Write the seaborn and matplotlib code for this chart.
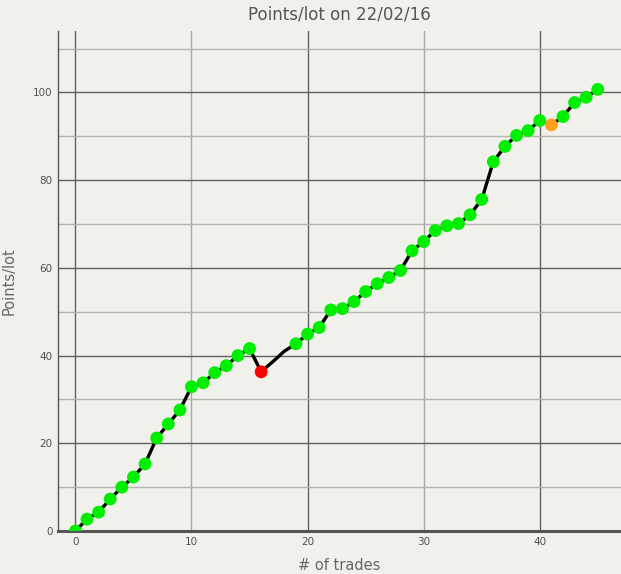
import matplotlib
matplotlib.use("Agg")
import matplotlib.pyplot as plt
from matplotlib.ticker import MultipleLocator
import pandas as pd
import seaborn as sb

# values
trades = list(range(46))
points = [0, 2.7, 4.3, 7.3, 10, 12.3, 15.3, 21.2, 24.4, 27.6,
          32.9, 33.8, 36.1, 37.7, 40, 41.6, 36.3, 38.6, 41, 42.7,
          44.9, 46.4, 50.4, 50.7, 52.3, 54.6, 56.4, 57.8, 59.4, 63.9,
          66, 68.5, 69.6, 70.1, 72.1, 75.6, 84.2, 87.7, 90.2, 91.3,
          93.6, 92.6, 94.5, 97.7, 98.9, 100.7]
# marker kind per trade ('' = no marker)
status = ['win'] * 16 + ['loss', '', ''] + ['win'] * 22 + ['flat'] + ['win'] * 4
colours = {'win': '#00ee00', 'loss': '#ff0000', 'flat': '#ffa020'}

df = pd.DataFrame({'trades': trades, 'points': points, 'status': status})
marked = df[df['status'] != '']

bg = '#f1f1ec'
sb.set_style('white')
plt.rcParams['font.family'] = ['DejaVu Sans']

fig = plt.figure(figsize=(6.21, 5.74), dpi=100, facecolor=bg)
ax = fig.add_axes([0.0934, 0.0749, 0.9066, 0.871])
ax.set_facecolor(bg)

sb.lineplot(data=df, x='trades', y='points', color='black', linewidth=2.4,
            ax=ax, zorder=3)
sb.scatterplot(data=marked, x='trades', y='points', hue='status',
               palette=colours, s=85, linewidth=0, legend=False,
               ax=ax, zorder=4)

ax.set_xlim(-1.5, 47)
ax.set_ylim(0, 114)

ax.xaxis.set_major_locator(MultipleLocator(10))
ax.yaxis.set_major_locator(MultipleLocator(20))
ax.xaxis.set_minor_locator(MultipleLocator(10))
ax.yaxis.set_minor_locator(MultipleLocator(10))
ax.grid(which='minor', color='#b4b4b0', linewidth=1.0, zorder=1)
ax.grid(which='major', color='#606060', linewidth=1.0, zorder=1)
# vertical lines at 10/30 are light, 0/20/40 dark
for gl, loc in zip(ax.get_xgridlines(), ax.get_xticks()):
    if loc % 20 != 0:
        gl.set_color('#a8a8a4')
ax.set_axisbelow(True)

ax.tick_params(which='both', length=0, labelsize=7.5, labelcolor='#505050', pad=4)
for side in ['top', 'right']:
    ax.spines[side].set_visible(False)
ax.spines['left'].set_color('#555555')
ax.spines['left'].set_linewidth(1.0)
ax.spines['bottom'].set_color('#555555')
ax.spines['bottom'].set_linewidth(2.2)

ax.set_title('Points/lot on 22/02/16', fontsize=12, color='#555555', pad=8)
ax.set_xlabel('# of trades', fontsize=10.5, color='#666666', labelpad=8)
ax.set_ylabel('Points/lot', fontsize=10.5, color='#666666', labelpad=12)

fig.savefig('out.png', dpi=100, facecolor=bg)
